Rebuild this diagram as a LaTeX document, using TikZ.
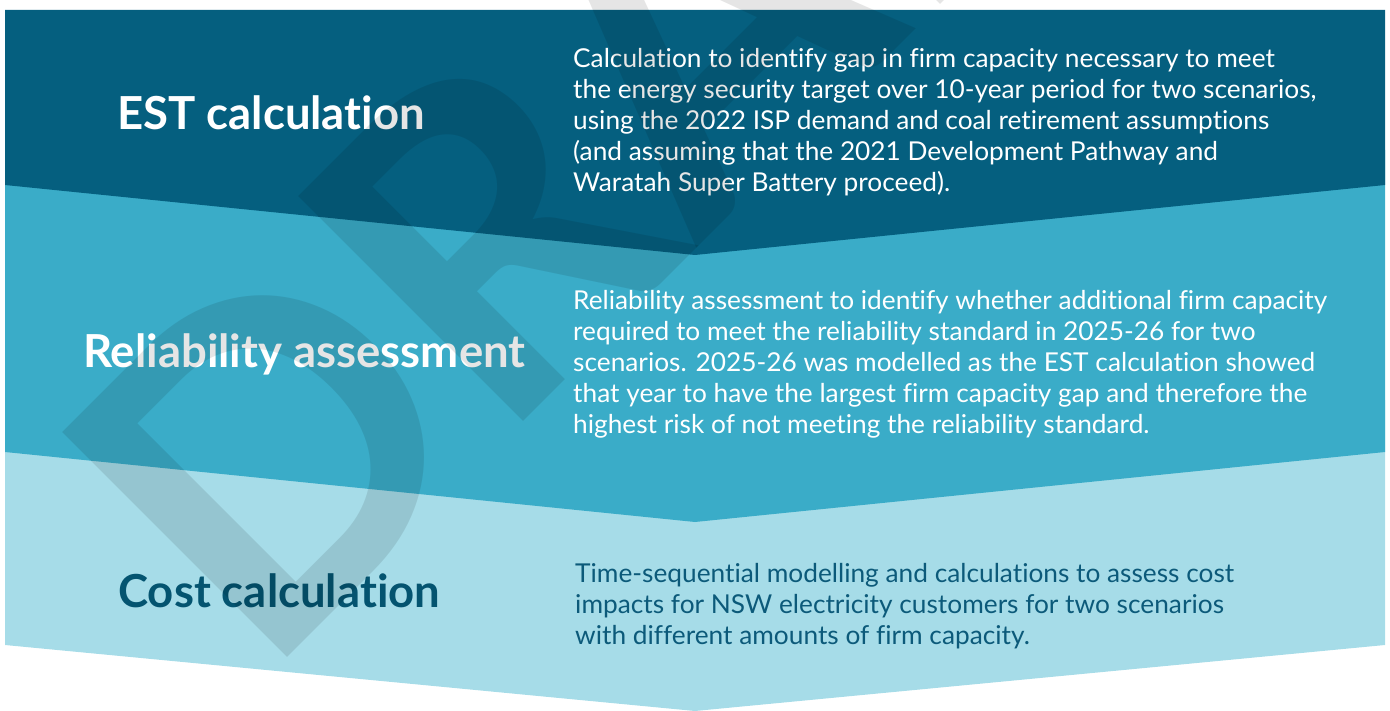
\documentclass[tikz,border=0pt]{standalone}
\usepackage{fontspec}
\setmainfont[Ligatures=NoCommon]{Lato}
\newfontfamily\bodyfont[FakeStretch=1.01,Ligatures=NoCommon]{Lato}
\newfontfamily\headfont[Ligatures=NoCommon]{Lato}
\definecolor{bandA}{RGB}{5,95,127}
\definecolor{bandB}{RGB}{58,172,200}
\definecolor{bandC}{RGB}{166,220,232}
\definecolor{darkhead}{RGB}{4,84,112}
\definecolor{darkbody}{RGB}{12,90,122}
\tikzset{
  head/.style={anchor=base west, inner sep=0pt, font=\headfont\bfseries\fontsize{45.5}{50}\selectfont},
  body/.style={anchor=north west, inner sep=0pt, align=left, font=\bodyfont\fontsize{26}{31}\selectfont},
  wmark/.style={anchor=base west, inner sep=0pt, rotate=45, text=black, text opacity=0.1, font=\headfont\bfseries\fontsize{440}{440}\selectfont}
}
\begin{document}
\begin{tikzpicture}[x=1pt,y=-1pt]
\useasboundingbox (0,0) rectangle (1390,711);
\clip (0,0) rectangle (1390,711);
% bands
\fill[bandC] (5,400) -- (1385,400) -- (1385,645) -- (695,711) -- (5,645) -- cycle;
\fill[bandB] (5,150) -- (1385,150) -- (1385,452) -- (695,522) -- (5,452) -- cycle;
\fill[bandA] (5,10) -- (1385,10) -- (1385,185) -- (695,255) -- (5,185) -- cycle;
% headings
\node[head, text=white] (h1) at (117,130) {EST calculation};
\node[head, text=white] (h2) at (83,367) {Reliability assessment};
\node[head, text=darkhead] (h3) at (118,607) {Cost calculation};
% bodies
\node[body, text=white] (b1) at (573,48.5) {Calculation to identify gap in firm capacity necessary to meet\\
the energy security target over 10-year period for two scenarios,\\
using the 2022 ISP demand and coal retirement assumptions\\
(and assuming that the 2021 Development Pathway and\\
Waratah Super Battery proceed).};
\node[body, text=white] (b2) at (573,290.5) {Reliability assessment to identify whether additional firm capacity\\
required to meet the reliability standard in 2025-26 for two\\
scenarios. 2025-26 was modelled as the EST calculation showed\\
that year to have the largest firm capacity gap and therefore the\\
highest risk of not meeting the reliability standard.};
\node[body, text=darkbody] (b3) at (575,563) {Time-sequential modelling and calculations to assess cost\\
impacts for NSW electricity customers for two scenarios\\
with different amounts of firm capacity.};
% watermark
\node[wmark] (wm) at (262,683) {DRAFT};
\end{tikzpicture}
\end{document}
